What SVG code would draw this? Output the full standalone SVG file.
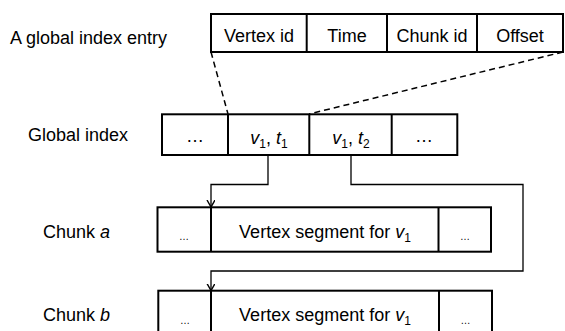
<svg xmlns="http://www.w3.org/2000/svg" width="565" height="331" viewBox="0 0 565 331">
<style>
.box{fill:#fff;stroke:#000;stroke-width:2}
.div{stroke:#000;stroke-width:2}
.t{font-family:"Liberation Sans",Arial,sans-serif;font-size:18px;fill:#000}
.m{text-anchor:middle}
.s{font-size:12px}
.dots{font-family:"Liberation Sans",Arial,sans-serif;font-size:10px;text-anchor:middle}
.conn{fill:none;stroke:#000;stroke-width:1.3}
.dash{fill:none;stroke:#000;stroke-width:1.5;stroke-dasharray:6,4}
</style>
<defs>
<marker id="arr" markerUnits="userSpaceOnUse" markerWidth="10" markerHeight="10" refX="7" refY="4" orient="auto">
<path d="M0,0 L7,4 L0,8" fill="none" stroke="#000" stroke-width="1.4"/>
</marker>
</defs>
<rect width="565" height="331" fill="#fff"/>

<g id="labels">
<text class="t" x="10" y="44">A global index entry</text>
<text class="t" x="28" y="141">Global index</text>
<text class="t" x="43" y="238">Chunk <tspan font-style="italic">a</tspan></text>
<text class="t" x="43" y="321">Chunk <tspan font-style="italic">b</tspan></text>
</g>

<g id="connectors">
<path class="dash" d="M211,52 L228,114"/>
<path class="dash" d="M563,52 L309,114"/>
<path class="conn" d="M268,155 V184.5 H211 V207" marker-end="url(#arr)"/>
<path class="conn" d="M351,155 V184.5 H523 V271 H211 V290.5" marker-end="url(#arr)"/>
</g>

<g id="entry">
<rect class="box" x="211" y="14" width="352" height="38"/>
<line class="div" x1="306.7" y1="14" x2="306.7" y2="52"/>
<line class="div" x1="387" y1="14" x2="387" y2="52"/>
<line class="div" x1="477" y1="14" x2="477" y2="52"/>
<text class="t m" x="259" y="42">Vertex id</text>
<text class="t m" x="347" y="42">Time</text>
<text class="t m" x="432" y="42">Chunk id</text>
<text class="t m" x="520" y="42">Offset</text>
</g>

<g id="global-index">
<rect class="box" x="162" y="114.3" width="295.3" height="40.7"/>
<line class="div" x1="228" y1="114.3" x2="228" y2="155"/>
<line class="div" x1="309.3" y1="114.3" x2="309.3" y2="155"/>
<line class="div" x1="391.7" y1="114.3" x2="391.7" y2="155"/>
<text class="t m" x="195" y="142">…</text>
<text class="t m" x="269" y="144"><tspan font-style="italic">v</tspan><tspan class="s" dy="4">1</tspan><tspan dy="-4">, </tspan><tspan font-style="italic">t</tspan><tspan class="s" dy="4">1</tspan></text>
<text class="t m" x="351" y="144"><tspan font-style="italic">v</tspan><tspan class="s" dy="4">1</tspan><tspan dy="-4">, </tspan><tspan font-style="italic">t</tspan><tspan class="s" dy="4">2</tspan></text>
<text class="t m" x="424" y="142">…</text>
</g>

<g id="chunk-a">
<rect class="box" x="157.5" y="207.3" width="333.5" height="44.4"/>
<line class="div" x1="211" y1="207.3" x2="211" y2="251.7"/>
<line class="div" x1="438.5" y1="207.3" x2="438.5" y2="251.7"/>
<text class="dots" x="184" y="240">…</text>
<text class="t m" x="325" y="237.5">Vertex segment for <tspan font-style="italic">v</tspan><tspan class="s" dy="4">1</tspan></text>
<text class="dots" x="465" y="240">…</text>
</g>

<g id="chunk-b">
<rect class="box" x="158.3" y="290.7" width="333.7" height="46"/>
<line class="div" x1="211" y1="290.7" x2="211" y2="336"/>
<line class="div" x1="439" y1="290.7" x2="439" y2="336"/>
<text class="dots" x="185" y="323.5">…</text>
<text class="t m" x="325" y="320.7">Vertex segment for <tspan font-style="italic">v</tspan><tspan class="s" dy="4">1</tspan></text>
<text class="dots" x="465.5" y="323.5">…</text>
</g>
</svg>
